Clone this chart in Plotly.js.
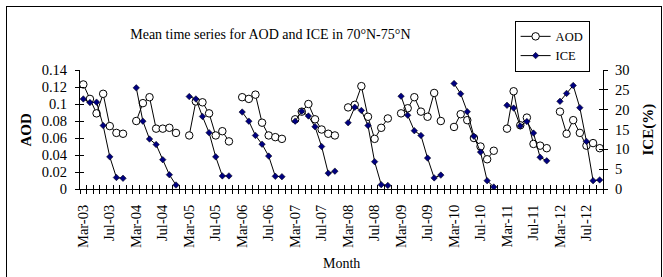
<!DOCTYPE html>
<html>
<head>
<meta charset="utf-8">
<script src="https://cdn.plot.ly/plotly-3.0.1.min.js"></script>
<style>
  html, body { margin: 0; padding: 0; background: #fff; }
  #frame { position: absolute; left: 6px; top: 6px; width: 654px; height: 290px;
           border-left: 1px solid #000; border-top: 1px solid #000; border-right: 1px solid #000; }
  #chart { position: absolute; left: 0; top: 0; width: 663px; height: 277px; }
</style>
</head>
<body>
<div id="frame"></div>
<div id="chart"></div>
<script>
// ---- data ----
const years = [2003, 2004, 2005, 2006, 2007, 2008, 2009, 2010, 2011, 2012];
const months = ["Mar", "Apr", "May", "Jun", "Jul", "Aug", "Sep", "Oct"];
const labelMonths = ["Mar", "Jul"];

const aod2003 = [0.123, 0.106, 0.089, 0.112, 0.074, 0.066, 0.065];
const aod2004 = [0.080, 0.101, 0.108, 0.071, 0.071, 0.072, 0.066];
const aod2005 = [0.063, 0.103, 0.102, 0.089, 0.063, 0.068, 0.056];
const aod2006 = [0.108, 0.106, 0.111, 0.078, 0.063, 0.061, 0.059];
const aod2007 = [0.082, 0.091, 0.100, 0.082, 0.070, 0.065, 0.063];
const aod2008 = [0.096, 0.099, 0.121, 0.085, 0.059, 0.072, 0.083];
const aod2009 = [0.089, 0.095, 0.108, 0.091, 0.085, 0.113, 0.080];
const aod2010 = [0.073, 0.088, 0.081, 0.060, 0.050, 0.035, 0.045];
const aod2011 = [0.071, 0.115, 0.075, 0.084, 0.053, 0.051, 0.048];
const aod2012 = [0.091, 0.065, 0.081, 0.066, 0.051, 0.054, 0.048];

const ice2003 = [22.7, 21.8, 21.9, 16.0, 8.1, 2.9, 2.7];
const ice2004 = [25.5, 17.1, 12.6, 11.2, 7.4, 3.6, 1.0];
const ice2005 = [23.3, 22.7, 18.3, 14.2, 8.1, 3.3, 3.3];
const ice2006 = [19.4, 17.1, 13.5, 11.3, 8.3, 3.2, 3.1];
const ice2007 = [17.1, 19.6, 18.4, 15.7, 10.7, 4.0, 4.5];
const ice2008 = [16.7, 20.6, 19.8, 16.0, 6.9, 1.1, 0.9];
const ice2009 = [23.4, 18.6, 14.7, 13.5, 7.8, 2.8, 3.5];
const ice2010 = [26.6, 24.0, 19.5, 13.3, 9.3, 2.1, 0.5];
const ice2011 = [21.1, 20.4, 15.9, 17.0, 14.1, 8.0, 7.1];
const ice2012 = [22.1, 24.1, 26.1, 20.5, 12.0, 2.1, 2.3];

const aodByYear = [aod2003, aod2004, aod2005, aod2006, aod2007, aod2008, aod2009, aod2010, aod2011, aod2012];
const iceByYear = [ice2003, ice2004, ice2005, ice2006, ice2007, ice2008, ice2009, ice2010, ice2011, ice2012];

const aodTicks = [0, 0.02, 0.04, 0.06, 0.08, 0.1, 0.12, 0.14];
const aodTickText = ["0", "0.02", "0.04", "0.06", "0.08", "0.1", "0.12", "0.14"];
const iceTicks = [0, 5, 10, 15, 20, 25, 30];

// ---- build category axis (Mar..Oct each year, ending Sep-12) ----
const cats = [];
years.forEach(y => months.forEach(m => cats.push(m + "-" + String(y).slice(2))));
cats.pop(); // last category is Sep-12
const nCat = cats.length;

const xs = [], aodY = [], iceY = [];
years.forEach((y, yi) => {
  months.forEach((m, mi) => {
    const idx = yi * months.length + mi;
    if (idx >= nCat) return;
    xs.push(idx);
    const a = aodByYear[yi][mi];
    const c = iceByYear[yi][mi];
    aodY.push(a === undefined ? null : a);
    iceY.push(c === undefined ? null : c);
  });
});

const tickVals = [], tickText = [];
cats.forEach((c, i) => {
  if (labelMonths.includes(c.split("-")[0])) { tickVals.push(i); tickText.push(c); }
});

const FONT = "Liberation Serif, Times New Roman, serif";
const xRange = [-0.5, nCat - 0.5];

const traces = [
  { x: xs, y: aodY, name: "AOD", type: "scatter", mode: "lines+markers",
    connectgaps: false, xaxis: "x", yaxis: "y",
    line: { color: "#000", width: 1 },
    marker: { symbol: "circle", size: 7.5, color: "#fff", line: { color: "#000", width: 1 } } },
  { x: xs, y: iceY, name: "ICE", type: "scatter", mode: "lines+markers",
    connectgaps: false, xaxis: "x", yaxis: "y2",
    line: { color: "#000", width: 1 },
    marker: { symbol: "diamond", size: 5, color: "#000080", line: { color: "#000", width: 0.5 } } },
  // empty helper traces so the tick-only overlay axes get drawn
  { x: [], y: [], xaxis: "x2", yaxis: "y", type: "scatter", showlegend: false, hoverinfo: "skip" },
  { x: [], y: [], xaxis: "x", yaxis: "y3", type: "scatter", showlegend: false, hoverinfo: "skip" },
  { x: [], y: [], xaxis: "x", yaxis: "y4", type: "scatter", showlegend: false, hoverinfo: "skip" }
];

const common = { showgrid: false, zeroline: false, color: "#000", linecolor: "#000", linewidth: 1, tickcolor: "#000", tickwidth: 1 };

const layout = {
  width: 663, height: 277,
  margin: { l: 80, r: 60, t: 70, b: 88, pad: 0 },
  paper_bgcolor: "rgba(0,0,0,0)", plot_bgcolor: "rgba(0,0,0,0)",
  font: { family: FONT, color: "#000", size: 14.5 },
  title: { text: "Mean time series for AOD and ICE in 70°N-75°N",
           font: { family: FONT, size: 14, color: "#000" },
           xref: "paper", x: 0.364, xanchor: "center",
           yref: "container", y: 0.877, yanchor: "middle" },
  showlegend: true,
  legend: { x: 0.831, y: 1.414, xanchor: "left", yanchor: "top",
            bordercolor: "#000", borderwidth: 1, bgcolor: "#fff",
            font: { family: FONT, size: 12.5, color: "#000" },
            tracegroupgap: 0, itemwidth: 30 },
  xaxis: Object.assign({}, common, {
    range: xRange, showline: true, anchor: "y",
    tickmode: "array", tickvals: tickVals, ticktext: tickText,
    tickangle: -90, ticks: "", ticklabelstandoff: 9,
    tickfont: { family: FONT, size: 14.5, color: "#000" },
    minor: { tickmode: "linear", tick0: -0.5, dtick: 1, ticks: "outside", ticklen: 4,
             tickcolor: "#000", tickwidth: 1, showgrid: false }
  }),
  xaxis2: Object.assign({}, common, {
    range: xRange, overlaying: "x", anchor: "y", side: "bottom", showline: false,
    tickmode: "linear", tick0: -0.5, dtick: 1, ticks: "inside", ticklen: 4,
    showticklabels: false
  }),
  yaxis: Object.assign({}, common, {
    range: [0, 0.14], showline: true, anchor: "x", side: "left",
    tickmode: "array", tickvals: aodTicks, ticktext: aodTickText,
    ticks: "outside", ticklen: 4, ticklabelstandoff: 5,
    tickfont: { family: FONT, size: 14.5, color: "#000" }
  }),
  yaxis3: Object.assign({}, common, {
    range: [0, 0.14], overlaying: "y", anchor: "x", side: "left", showline: false,
    tickmode: "array", tickvals: aodTicks, ticks: "inside", ticklen: 4, showticklabels: false
  }),
  yaxis2: Object.assign({}, common, {
    range: [0, 30], overlaying: "y", anchor: "x", side: "right", showline: true,
    tickmode: "array", tickvals: iceTicks,
    ticks: "outside", ticklen: 4, ticklabelstandoff: 4,
    tickfont: { family: FONT, size: 14.5, color: "#000" }
  }),
  yaxis4: Object.assign({}, common, {
    range: [0, 30], overlaying: "y", anchor: "x", side: "right", showline: false,
    tickmode: "array", tickvals: iceTicks, ticks: "inside", ticklen: 4, showticklabels: false
  }),
  annotations: [
    { text: "<b>AOD</b>", xref: "paper", yref: "paper", x: (25 - 80) / 523, y: 0.5,
      textangle: -90, showarrow: false, xanchor: "center", yanchor: "middle",
      font: { family: FONT, size: 15, color: "#000" } },
    { text: "<b>ICE(%)</b>", xref: "paper", yref: "paper", x: (648 - 80) / 523, y: 0.5,
      textangle: -90, showarrow: false, xanchor: "center", yanchor: "middle",
      font: { family: FONT, size: 15, color: "#000" } },
    { text: "Month", xref: "paper", yref: "paper", x: 0.5, y: (189 - 263) / 119,
      showarrow: false, xanchor: "center", yanchor: "middle",
      font: { family: FONT, size: 14, color: "#000" } }
  ]
};

Plotly.newPlot("chart", traces, layout, { displayModeBar: false, staticPlot: true });
</script>
</body>
</html>
